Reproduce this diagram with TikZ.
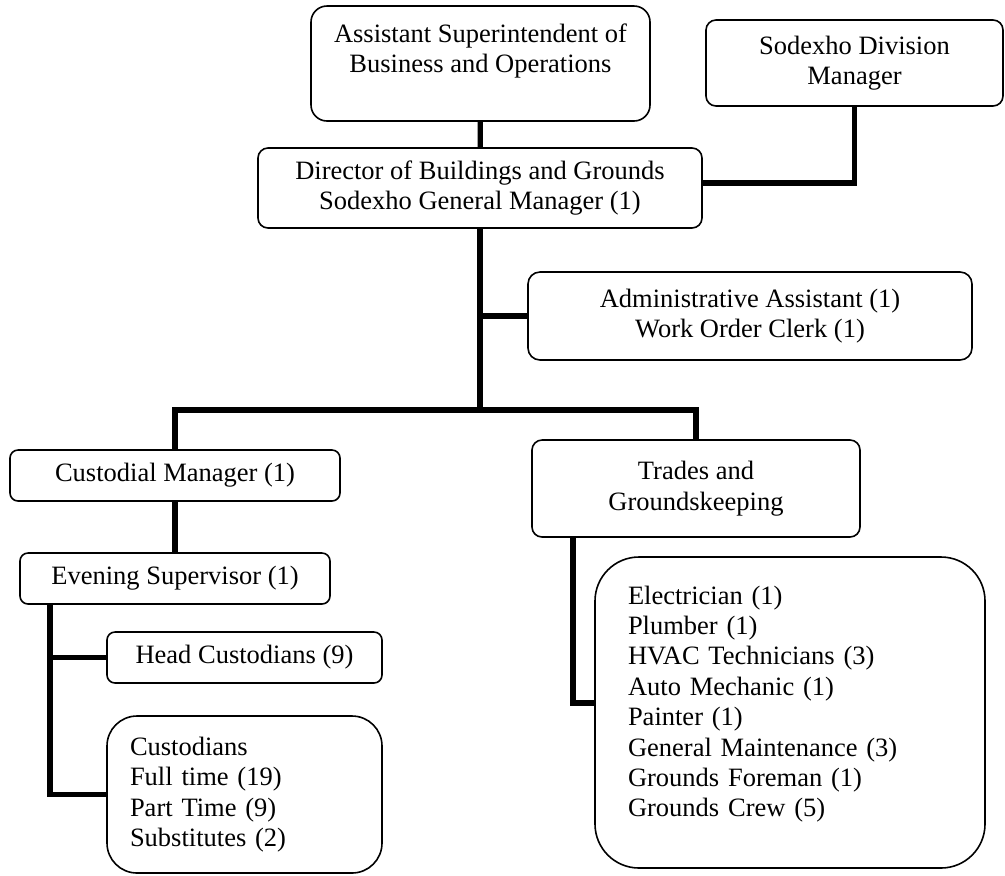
\documentclass[tikz,border=0pt]{standalone}
\usepackage{fontspec}
\setmainfont{Liberation Serif}
\usepackage{tikz}
\usetikzlibrary{positioning}

\begin{document}
\begin{tikzpicture}[
  x=0.5pt, y=-0.5pt,
  font=\fontsize{13.25}{15.2}\selectfont,
  post/.style={rectangle, draw, line width=0.8pt, rounded corners=5pt, inner sep=0pt, align=center},
  listpost/.style={post, align=left},
  link/.style={line width=2.6pt}
]
\useasboundingbox (0,0) rectangle (1005,875);
\node[post, rounded corners=8pt, minimum width=169.5pt, minimum height=57.5pt] (asst) at (480.5,63.5) {Assistant Superintendent of\\Business and Operations\\\mbox{}};
\node[post, minimum width=148.5pt, minimum height=43pt] (division) at (854.5,63) {Sodexho Division\\Manager};
\node[post, minimum width=222pt, minimum height=40pt] (director) at (480,188) {Director of Buildings and Grounds\\Sodexho General Manager (1)};
\node[post, rounded corners=6pt, minimum width=222pt, minimum height=44pt] (admin) at (750,316) {Administrative Assistant (1)\\Work Order Clerk (1)};
\node[post, rounded corners=4pt, minimum width=165pt, minimum height=25.5pt] (custmgr) at (175,475.5) {Custodial Manager (1)};
\node[post, rounded corners=4pt, minimum width=155pt, minimum height=25.5pt] (evening) at (175,578.5) {Evening Supervisor (1)};
\node[post, rounded corners=4pt, minimum width=137.5pt, minimum height=25.5pt] (head) at (244.5,657.5) {Head Custodians (9)};
\node[listpost, rounded corners=15pt, text width=114.5pt, inner xsep=11.5pt, minimum height=78.5pt] (custodians) at (244.5,794.5) {Custodians\\Full time (19)\\Part Time (9)\\Substitutes (2)};
\node[post, minimum width=164pt, minimum height=48.5pt] (trades) at (696,488.5) {Trades and\\Groundskeeping};
\node[listpost, rounded corners=22pt, text width=162pt, inner xsep=16.5pt, minimum height=155.5pt] (tradelist) at (790,712.5) {Electrician (1)\\Plumber (1)\\HVAC Technicians (3)\\Auto Mechanic (1)\\Painter (1)\\General Maintenance (3)\\Grounds Foreman (1)\\Grounds Crew (5)\\[-4pt]\mbox{}};
\coordinate (bar) at (480,410);
\coordinate (espine) at (50,604);
\coordinate (tspine) at (573,537);
\draw[link] (asst) -- (director);
\draw[link] ([yshift=2.5pt]director.east) -| (division.south);
\draw[link] (director.south) -- (bar);
\draw[link] (director.south |- admin.west) -- (admin.west);
\draw[link] (custmgr.north) |- (bar) -| (trades.north);
\draw[link] (custmgr) -- (evening);
\draw[link] (espine) |- (custodians.west);
\draw[link] (espine |- head.west) -- (head.west);
\draw[link] (tspine) |- ([yshift=4.75pt]tradelist.west);
\end{tikzpicture}
\end{document}
